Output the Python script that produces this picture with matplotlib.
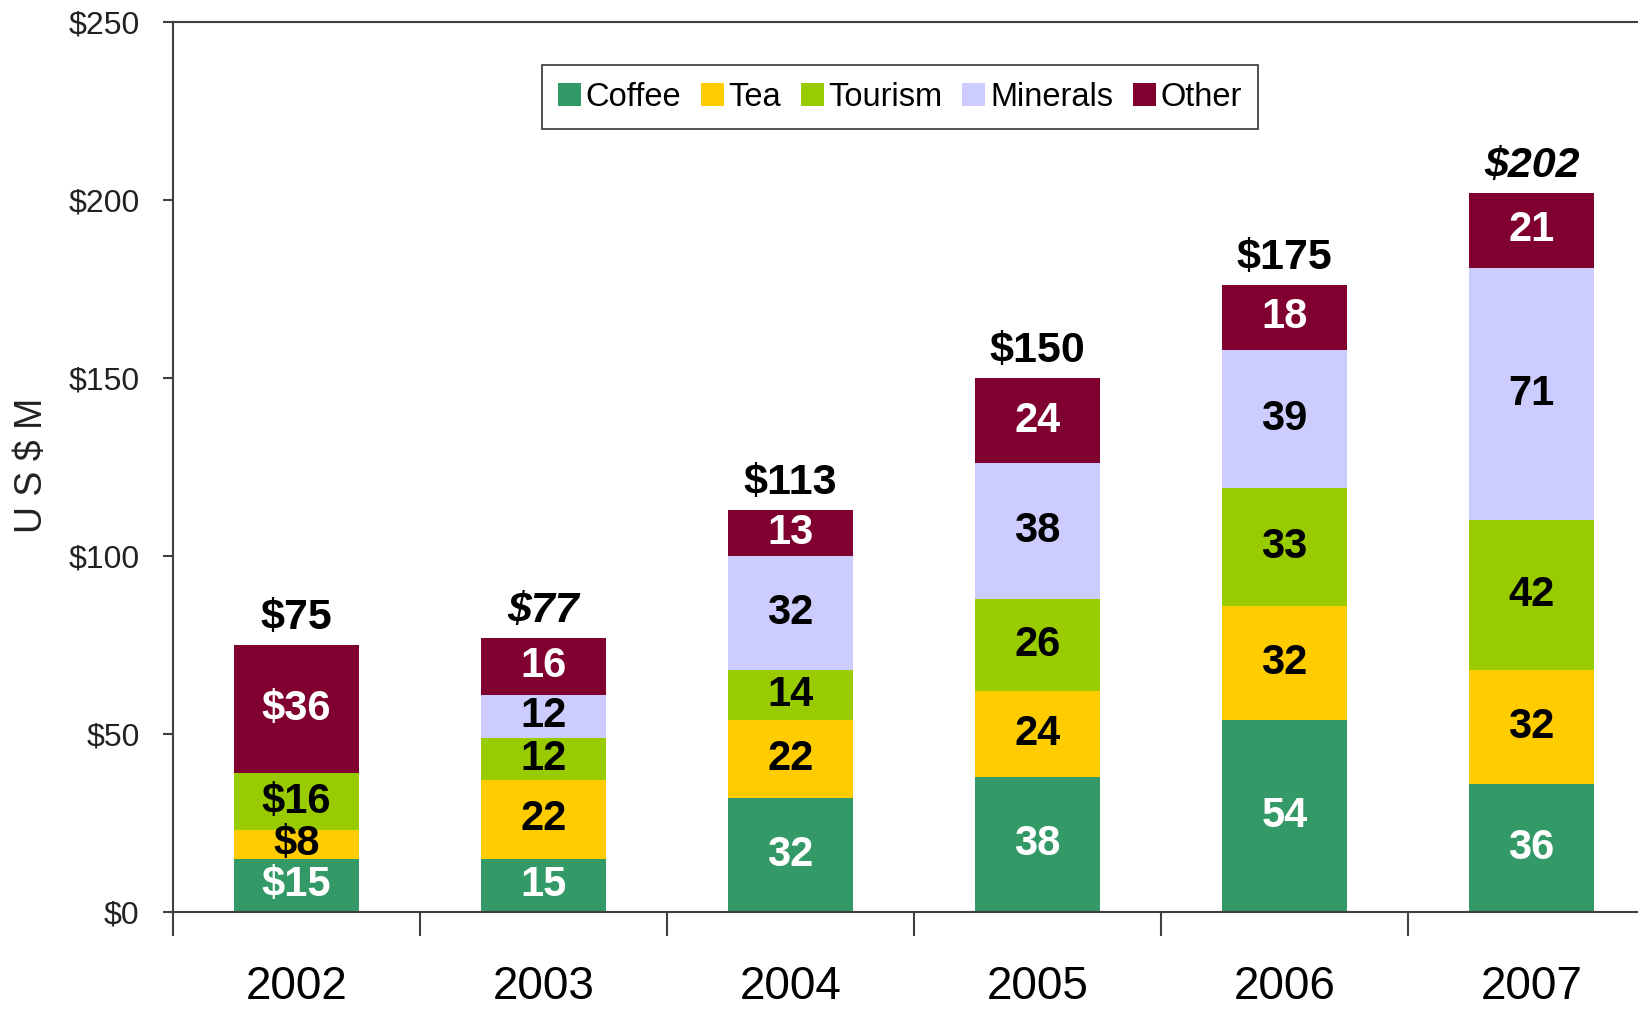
""" Stacked export earnings chart """

# imports
import matplotlib
matplotlib.use('Agg')
import matplotlib.pyplot as plt
import numpy as np

# data
years = ['2002', '2003', '2004', '2005', '2006', '2007']
coffee = [15, 15, 32, 38, 54, 36]
tea = [8, 22, 22, 24, 32, 32]
tourism = [16, 12, 14, 26, 33, 42]
minerals = [0, 12, 32, 38, 39, 71]
other = [36, 16, 13, 24, 18, 21]
totalLabels = ['$75', '$77', '$113', '$150', '$175', '$202']
totalItalic = [False, True, False, False, False, True]
seriesNames = ['Coffee', 'Tea', 'Tourism', 'Minerals', 'Other']
seriesColors = ['#339966', '#FFCC00', '#99CC00', '#CCCCFF', '#800030']
labelColors = ['white', 'black', 'black', 'black', 'white']
yTicks = [0, 50, 100, 150, 200, 250]

# font
plt.rcParams['font.family'] = ['Liberation Sans Narrow', 'Liberation Sans', 'DejaVu Sans']

# figure
fig = plt.figure(figsize=(16.38, 10.18), dpi=100)
ax = fig.add_axes([0.1056, 0.1041, 0.9048, 0.8743])

x = np.arange(len(years))
series = [coffee, tea, tourism, minerals, other]
bottom = np.zeros(len(years))
for name, vals, col, lcol in zip(seriesNames, series, seriesColors, labelColors):
	vals = np.array(vals, dtype=float)
	ax.bar(x, vals, bottom=bottom, width=0.505, color=col, label=name, edgecolor='none')
	for i, v in enumerate(vals):
		if v <= 0:
			continue
		txt = f'${int(v)}' if i == 0 else f'{int(v)}'
		ax.text(x[i], bottom[i] + v / 2, txt, ha='center', va='center', color=lcol,
				fontsize=30, fontweight='bold')
	bottom = bottom + vals

# totals
for i, lab in enumerate(totalLabels):
	ax.annotate(lab, (x[i], bottom[i]), xytext=(0, 5), textcoords='offset points',
				ha='center', va='bottom', fontsize=31, fontweight='bold',
				fontstyle='italic' if totalItalic[i] else 'normal')

# axes
ax.set_xlim(-0.5, 5.5)
ax.set_ylim(0, 250)
ax.set_yticks(yTicks)
ax.set_yticklabels([f'${t}' for t in yTicks], fontsize=23, color='#222222')
ax.tick_params(axis='y', direction='out', length=7, width=1.5, color='#404040', pad=17)
ax.set_xticks(x)
ax.set_xticklabels(years, fontsize=33)
ax.tick_params(axis='x', which='major', length=0, pad=38)
ax.set_xticks(np.arange(-0.5, 6, 1), minor=True)
ax.tick_params(axis='x', which='minor', direction='out', length=17, width=1.5, color='#404040')
for s in ['top', 'left', 'bottom', 'right']:
	ax.spines[s].set_color('#404040')
	ax.spines[s].set_linewidth(1.5)
ax.set_ylabel('U S $ M', fontsize=27, color='#222222')
ax.yaxis.set_label_coords(-0.083, 0.502)

# legend
leg = ax.legend(loc='center', bbox_to_anchor=(0.4905, 0.9157), ncol=5, fontsize=23.5,
				frameon=True, fancybox=False, edgecolor='black', handlelength=0.7,
				handleheight=0.7, handletextpad=0.15, columnspacing=0.6, borderpad=0.5)
leg.get_frame().set_linewidth(1.2)

fig.savefig('out.png', dpi=100)
